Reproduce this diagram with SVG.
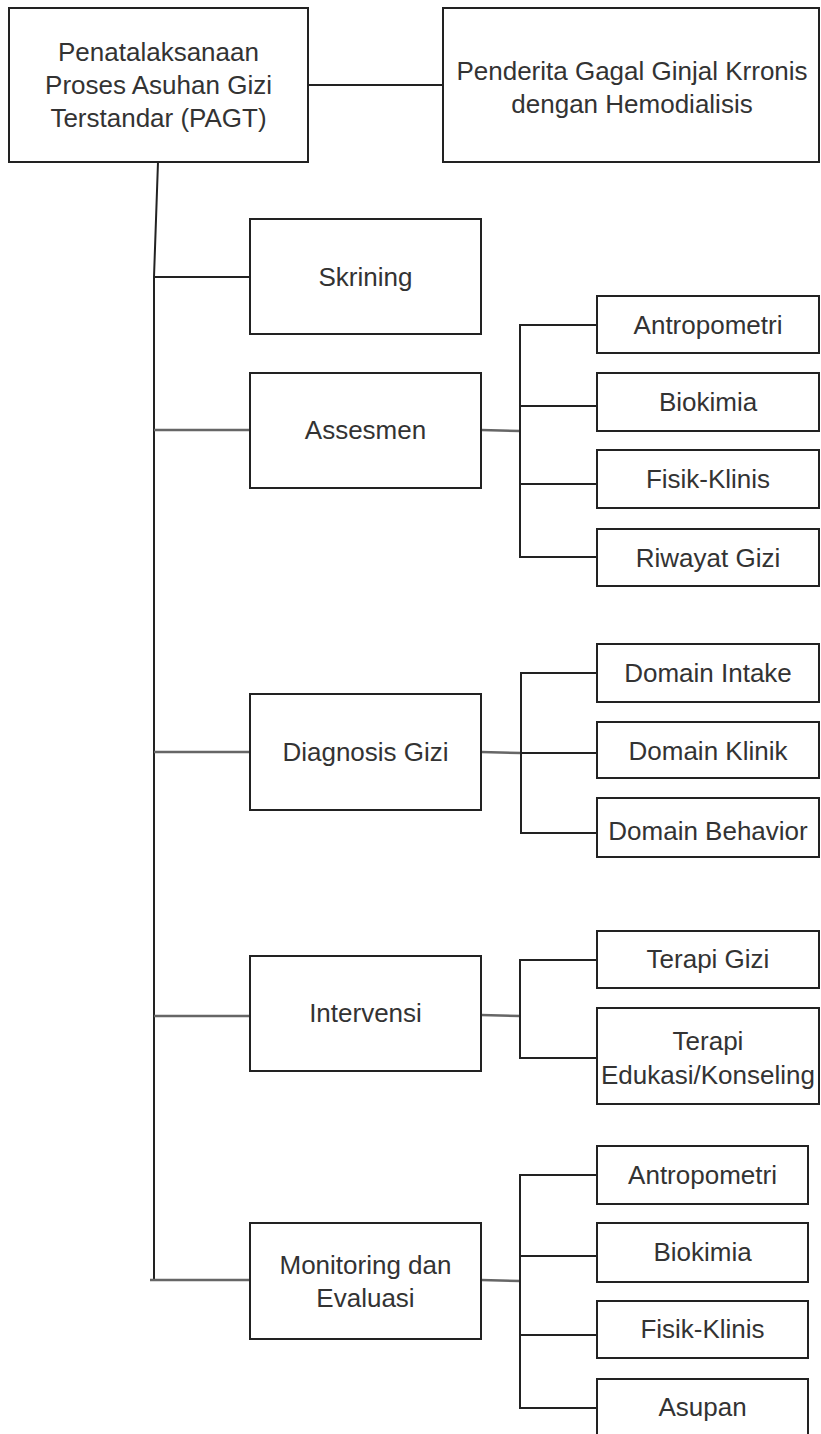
<svg xmlns="http://www.w3.org/2000/svg" width="821" height="1434" viewBox="0 0 821 1434">
<style>
.box{fill:#fff;stroke:#222;stroke-width:2}
.t{font-family:"Liberation Sans",Arial,sans-serif;font-size:26px;fill:#333;text-anchor:middle;dominant-baseline:central}
.c{fill:none;stroke:#222;stroke-width:2}
.g{fill:none;stroke:#666;stroke-width:2.5}
</style>
<rect width="821" height="1434" fill="#fff"/>
<g id="connectors">
<line class="c" x1="308" y1="85" x2="443" y2="85"/>
<polyline class="c" points="158,162 154,277 154,1280"/>
<line class="c" x1="154" y1="277" x2="250" y2="277"/>
<line class="g" x1="154" y1="430" x2="250" y2="430"/>
<line class="g" x1="154" y1="752" x2="250" y2="752"/>
<line class="g" x1="154" y1="1016" x2="250" y2="1016"/>
<line class="g" x1="150" y1="1280" x2="250" y2="1280"/>
<line class="g" x1="481" y1="430" x2="520" y2="431"/>
<polyline class="c" points="597,325 520,325 520,557 597,557"/>
<line class="c" x1="520" y1="406" x2="597" y2="406"/>
<line class="c" x1="520" y1="484" x2="597" y2="484"/>
<line class="g" x1="481" y1="752" x2="521" y2="753"/>
<polyline class="c" points="597,673 521,673 521,833 597,833"/>
<line class="c" x1="521" y1="753" x2="597" y2="753"/>
<line class="g" x1="481" y1="1015" x2="520" y2="1016"/>
<polyline class="c" points="597,960 520,960 520,1058 597,1058"/>
<line class="g" x1="481" y1="1280" x2="520" y2="1281"/>
<polyline class="c" points="597,1175 520,1175 520,1408 597,1408"/>
<line class="c" x1="520" y1="1256" x2="597" y2="1256"/>
<line class="c" x1="520" y1="1335" x2="597" y2="1335"/>
</g>
<g id="pagt"><rect class="box" x="9" y="8" width="299" height="154"/><text class="t" x="158.5" y="52">Penatalaksanaan</text><text class="t" x="158.5" y="85">Proses Asuhan Gizi</text><text class="t" x="158.5" y="118">Terstandar (PAGT)</text></g>
<g id="penderita"><rect class="box" x="443" y="8" width="376" height="154"/><text class="t" x="632" y="71">Penderita Gagal Ginjal Krronis</text><text class="t" x="632" y="104">dengan Hemodialisis</text></g>
<g id="skrining"><rect class="box" x="250" y="219" width="231" height="115"/><text class="t" x="365.5" y="277">Skrining</text></g>
<g id="assesmen"><rect class="box" x="250" y="373" width="231" height="115"/><text class="t" x="365.5" y="430">Assesmen</text></g>
<g id="diagnosis"><rect class="box" x="250" y="694" width="231" height="116"/><text class="t" x="365.5" y="752">Diagnosis Gizi</text></g>
<g id="intervensi"><rect class="box" x="250" y="956" width="231" height="115"/><text class="t" x="365.5" y="1013">Intervensi</text></g>
<g id="monitoring"><rect class="box" x="250" y="1223" width="231" height="116"/><text class="t" x="365.5" y="1265">Monitoring dan</text><text class="t" x="365.5" y="1298">Evaluasi</text></g>
<g id="a-antropometri"><rect class="box" x="597" y="296" width="222" height="57"/><text class="t" x="708" y="325">Antropometri</text></g>
<g id="a-biokimia"><rect class="box" x="597" y="373" width="222" height="58"/><text class="t" x="708" y="402">Biokimia</text></g>
<g id="a-fisik"><rect class="box" x="597" y="450" width="222" height="58"/><text class="t" x="708" y="479">Fisik-Klinis</text></g>
<g id="a-riwayat"><rect class="box" x="597" y="529" width="222" height="57"/><text class="t" x="708" y="558">Riwayat Gizi</text></g>
<g id="d-intake"><rect class="box" x="597" y="644" width="222" height="58"/><text class="t" x="708" y="673">Domain Intake</text></g>
<g id="d-klinik"><rect class="box" x="597" y="722" width="222" height="56"/><text class="t" x="708" y="751">Domain Klinik</text></g>
<g id="d-behavior"><rect class="box" x="597" y="798" width="222" height="59"/><text class="t" x="708" y="831">Domain Behavior</text></g>
<g id="i-terapi-gizi"><rect class="box" x="597" y="931" width="222" height="57"/><text class="t" x="708" y="959">Terapi Gizi</text></g>
<g id="i-terapi-edukasi"><rect class="box" x="597" y="1008" width="222" height="96"/><text class="t" x="708" y="1041">Terapi</text><text class="t" x="708" y="1075">Edukasi/Konseling</text></g>
<g id="m-antropometri"><rect class="box" x="597" y="1146" width="211" height="58"/><text class="t" x="702.5" y="1175">Antropometri</text></g>
<g id="m-biokimia"><rect class="box" x="597" y="1223" width="211" height="59"/><text class="t" x="702.5" y="1252">Biokimia</text></g>
<g id="m-fisik"><rect class="box" x="597" y="1301" width="211" height="57"/><text class="t" x="702.5" y="1329">Fisik-Klinis</text></g>
<g id="m-asupan"><rect class="box" x="597" y="1379" width="211" height="70"/><text class="t" x="702.5" y="1407">Asupan</text></g>
</svg>
